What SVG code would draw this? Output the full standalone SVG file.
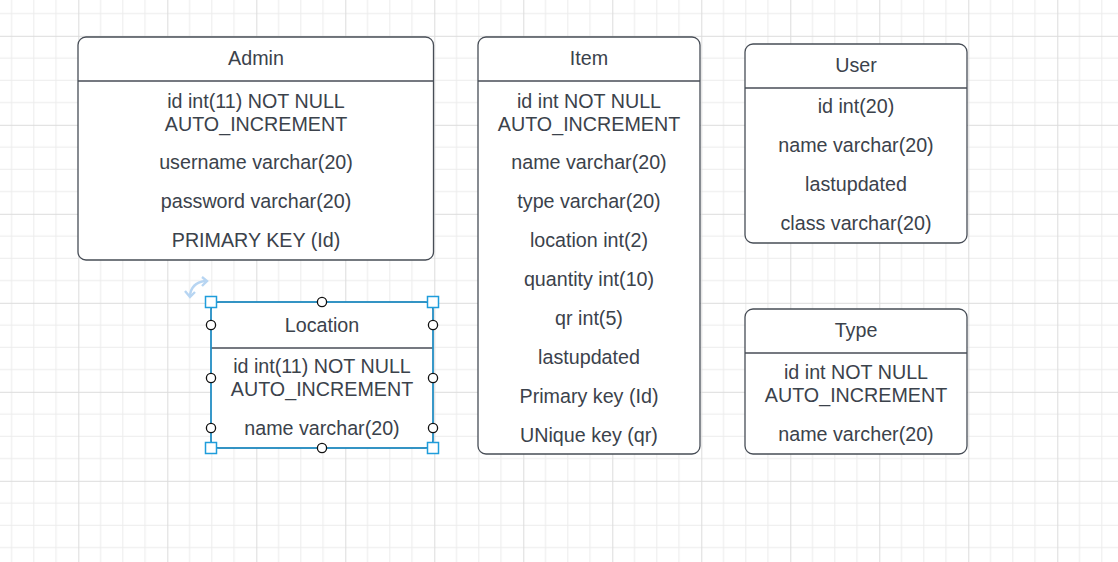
<svg xmlns="http://www.w3.org/2000/svg" width="1118" height="562" viewBox="0 0 1118 562">
  <defs>
    <pattern id="grid" patternUnits="userSpaceOnUse" x="78.3" y="35.8" width="89" height="89">
      <rect width="89" height="89" fill="#ffffff"/>
      <path d="M22.25 0V89M44.5 0V89M66.75 0V89M0 22.25H89M0 44.5H89M0 66.75H89" stroke="#ececec" stroke-width="1" fill="none"/>
      <path d="M0.5 0V89M0 0.5H89" stroke="#dcdcdc" stroke-width="1" fill="none"/>
    </pattern>
    <style>
      .box { fill: #ffffff; stroke: #474d56; stroke-width: 1.3; }
      .sep { stroke: #474d56; stroke-width: 1.3; }
      .t { font-family: "Liberation Sans", Arial, sans-serif; font-size: 19.7px; fill: #3b424b; text-anchor: middle; }
      .sel { fill: none; stroke: #1f9ddb; stroke-width: 1.5; }
      .hsq { fill: #ffffff; stroke: #1f9ddb; stroke-width: 1.5; }
      .hc { fill: #ffffff; stroke: #111111; stroke-width: 1.3; }
    </style>
  </defs>
  <rect width="1118" height="562" fill="url(#grid)"/>

  <g id="connectors"></g>

  <g id="admin">
    <rect class="box" x="78" y="37" width="355.5" height="223" rx="8"/>
    <line class="sep" x1="78" y1="81" x2="433.5" y2="81"/>
    <text class="t" x="256" y="65">Admin</text>
    <text class="t" x="256" y="108">id int(11) NOT NULL</text>
    <text class="t" x="256" y="131">AUTO_INCREMENT</text>
    <text class="t" x="256" y="169">username varchar(20)</text>
    <text class="t" x="256" y="208">password varchar(20)</text>
    <text class="t" x="256" y="247">PRIMARY KEY (Id)</text>
  </g>

  <g id="item">
    <rect class="box" x="478" y="37" width="222" height="417" rx="8"/>
    <line class="sep" x1="478" y1="81" x2="700" y2="81"/>
    <text class="t" x="589" y="65">Item</text>
    <text class="t" x="589" y="108">id int NOT NULL</text>
    <text class="t" x="589" y="131">AUTO_INCREMENT</text>
    <text class="t" x="589" y="169">name varchar(20)</text>
    <text class="t" x="589" y="208">type varchar(20)</text>
    <text class="t" x="589" y="247">location int(2)</text>
    <text class="t" x="589" y="286">quantity int(10)</text>
    <text class="t" x="589" y="325">qr int(5)</text>
    <text class="t" x="589" y="364">lastupdated</text>
    <text class="t" x="589" y="403">Primary key (Id)</text>
    <text class="t" x="589" y="442">UNique key (qr)</text>
  </g>

  <g id="user">
    <rect class="box" x="745" y="44" width="222" height="199" rx="8"/>
    <line class="sep" x1="745" y1="88" x2="967" y2="88"/>
    <text class="t" x="856" y="72">User</text>
    <text class="t" x="856" y="113">id int(20)</text>
    <text class="t" x="856" y="152">name varchar(20)</text>
    <text class="t" x="856" y="191">lastupdated</text>
    <text class="t" x="856" y="230">class varchar(20)</text>
  </g>

  <g id="type">
    <rect class="box" x="745" y="309" width="222" height="145" rx="8"/>
    <line class="sep" x1="745" y1="353" x2="967" y2="353"/>
    <text class="t" x="856" y="337">Type</text>
    <text class="t" x="856" y="379">id int NOT NULL</text>
    <text class="t" x="856" y="402">AUTO_INCREMENT</text>
    <text class="t" x="856" y="441">name varcher(20)</text>
  </g>

  <g id="location">
    <rect class="box" x="211" y="302" width="222" height="146" rx="8"/>
    <line class="sep" x1="211" y1="348" x2="433" y2="348"/>
    <text class="t" x="322" y="332">Location</text>
    <text class="t" x="322" y="373">id int(11) NOT NULL</text>
    <text class="t" x="322" y="396">AUTO_INCREMENT</text>
    <text class="t" x="322" y="435">name varchar(20)</text>
    <rect class="sel" x="211" y="302" width="222" height="146"/>
    <rect class="hsq" x="205.5" y="296.5" width="11" height="11"/>
    <rect class="hsq" x="427.5" y="296.5" width="11" height="11"/>
    <rect class="hsq" x="205.5" y="442.5" width="11" height="11"/>
    <rect class="hsq" x="427.5" y="442.5" width="11" height="11"/>
    <circle class="hc" cx="322" cy="302" r="4.6"/>
    <circle class="hc" cx="322" cy="448" r="4.6"/>
    <circle class="hc" cx="211" cy="325" r="4.6"/>
    <circle class="hc" cx="211" cy="378" r="4.6"/>
    <circle class="hc" cx="211" cy="428" r="4.6"/>
    <circle class="hc" cx="433" cy="325" r="4.6"/>
    <circle class="hc" cx="433" cy="378" r="4.6"/>
    <circle class="hc" cx="433" cy="428" r="4.6"/>
    <g id="rotate" fill="none" stroke="#b7d5f2" stroke-width="2.4">
      <path d="M190 296 Q191 283 205 281"/>
      <path d="M185 291 L190 297 L195 292"/>
      <path d="M202 277 L207 281 L202 286"/>
    </g>
  </g>
</svg>
